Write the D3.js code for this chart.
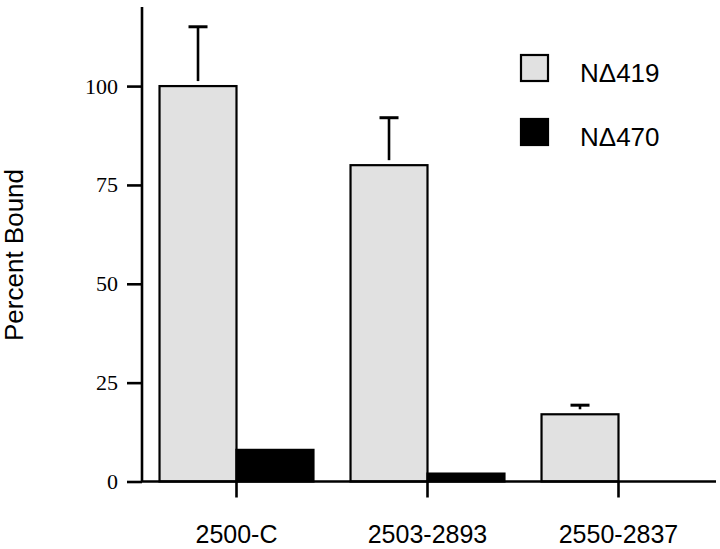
<!DOCTYPE html>
<html>
<head>
<meta charset="utf-8">
<script src="https://cdn.jsdelivr.net/npm/d3@7"></script>
<style>
  body { margin: 0; background: #fff; }
  svg { display: block; }
</style>
</head>
<body>
<svg id="chart" width="720" height="549"></svg>
<script>
  // data
  var categories = ['2500-C', '2503-2893', '2550-2837'];
  var seriesNames = ['N\u0394419', 'N\u0394470'];
  var nd419 = [100, 80, 17];
  var nd419Err = [15, 12, 2.3];
  var nd470 = [8, 2, 0];
  var yTicks = [0, 25, 50, 75, 100];

  var svg = d3.select('#chart');
  var fills = ['#e1e1e1', '#000'];

  var y = d3.scaleLinear().domain([0, 120]).range([481.5, 7]);
  var x0 = d3.scaleBand().domain(categories).range([141, 714]).paddingInner(0.194).paddingOuter(0.097);
  var x1 = d3.scaleBand().domain(seriesNames).range([0, x0.bandwidth()]);

  var rows = categories.map(function(c, i) {
    return { cat: c, vals: [
      { s: seriesNames[0], v: nd419[i], err: nd419Err[i] },
      { s: seriesNames[1], v: nd470[i], err: 0 }
    ] };
  });

  // bars
  var groups = svg.selectAll('g.group')
    .data(rows)
    .enter().append('g')
    .attr('class', 'group')
    .attr('transform', function(d) { return 'translate(' + x0(d.cat) + ',0)'; });

  groups.selectAll('rect')
    .data(function(d) { return d.vals; })
    .enter().append('rect')
    .attr('x', function(d) { return x1(d.s); })
    .attr('y', function(d) { return y(d.v); })
    .attr('width', x1.bandwidth())
    .attr('height', function(d) { return y(0) - y(d.v); })
    .attr('fill', function(d, i) { return fills[i]; })
    .attr('stroke', '#000')
    .attr('stroke-width', function(d) { return d.v > 0 ? 2.2 : 0; });

  // error bars (upper only)
  var errs = groups.selectAll('g.err')
    .data(function(d) { return d.vals.filter(function(v) { return v.err > 0; }); })
    .enter().append('g')
    .attr('class', 'err');

  errs.append('line')
    .attr('x1', function(d) { return x1(d.s) + x1.bandwidth() / 2; })
    .attr('x2', function(d) { return x1(d.s) + x1.bandwidth() / 2; })
    .attr('y1', function(d) { return y(d.v) - 5; })
    .attr('y2', function(d) { return y(d.v + d.err); })
    .attr('stroke', '#000')
    .attr('stroke-width', 2.6);

  errs.append('line')
    .attr('x1', function(d) { return x1(d.s) + x1.bandwidth() / 2 - 9.5; })
    .attr('x2', function(d) { return x1(d.s) + x1.bandwidth() / 2 + 9.5; })
    .attr('y1', function(d) { return y(d.v + d.err); })
    .attr('y2', function(d) { return y(d.v + d.err); })
    .attr('stroke', '#000')
    .attr('stroke-width', 3);

  // y axis
  var yAxis = svg.append('g')
    .attr('transform', 'translate(142,0)')
    .call(d3.axisLeft(y).tickValues(yTicks).tickSize(15).tickPadding(9));
  yAxis.select('.domain')
    .attr('d', 'M0,' + y(120) + 'V' + y(0))
    .attr('stroke-width', 2.6);
  yAxis.selectAll('.tick line').attr('stroke-width', 2.6);
  yAxis.selectAll('.tick text')
    .attr('font-family', '"Liberation Serif", "Times New Roman", serif')
    .attr('font-size', 22)
    .attr('fill', '#000');

  // x axis: baseline plus ticks at group centres
  svg.append('line')
    .attr('x1', 141).attr('x2', 716)
    .attr('y1', y(0)).attr('y2', y(0))
    .attr('stroke', '#000').attr('stroke-width', 2.6);

  svg.selectAll('line.xtick')
    .data(categories)
    .enter().append('line')
    .attr('class', 'xtick')
    .attr('x1', function(d) { return x0(d) + x0.bandwidth() / 2; })
    .attr('x2', function(d) { return x0(d) + x0.bandwidth() / 2; })
    .attr('y1', y(0))
    .attr('y2', y(0) + 16)
    .attr('stroke', '#000').attr('stroke-width', 2.6);

  svg.selectAll('text.xlabel')
    .data(categories)
    .enter().append('text')
    .attr('class', 'xlabel')
    .attr('x', function(d) { return x0(d) + x0.bandwidth() / 2; })
    .attr('y', 543)
    .attr('text-anchor', 'middle')
    .attr('font-family', '"Liberation Sans", Arial, sans-serif')
    .attr('font-size', 25)
    .text(function(d) { return d; });

  // y label
  svg.append('text')
    .attr('transform', 'translate(23,255) rotate(-90)')
    .attr('text-anchor', 'middle')
    .attr('font-family', '"Liberation Sans", Arial, sans-serif')
    .attr('font-size', 26)
    .text('Percent Bound');

  // legend
  var legend = svg.selectAll('g.legend')
    .data(seriesNames)
    .enter().append('g')
    .attr('class', 'legend')
    .attr('transform', function(d, i) { return 'translate(520,' + (54 + i * 64) + ')'; });

  legend.append('rect')
    .attr('x', 1).attr('y', 1)
    .attr('width', 27).attr('height', 26)
    .attr('fill', function(d, i) { return fills[i]; })
    .attr('stroke', '#000')
    .attr('stroke-width', 2.2);

  legend.append('text')
    .attr('x', 60)
    .attr('y', 27.5)
    .attr('font-family', '"Liberation Sans", Arial, sans-serif')
    .attr('font-size', 26)
    .text(function(d) { return d; });
</script>
</body>
</html>
